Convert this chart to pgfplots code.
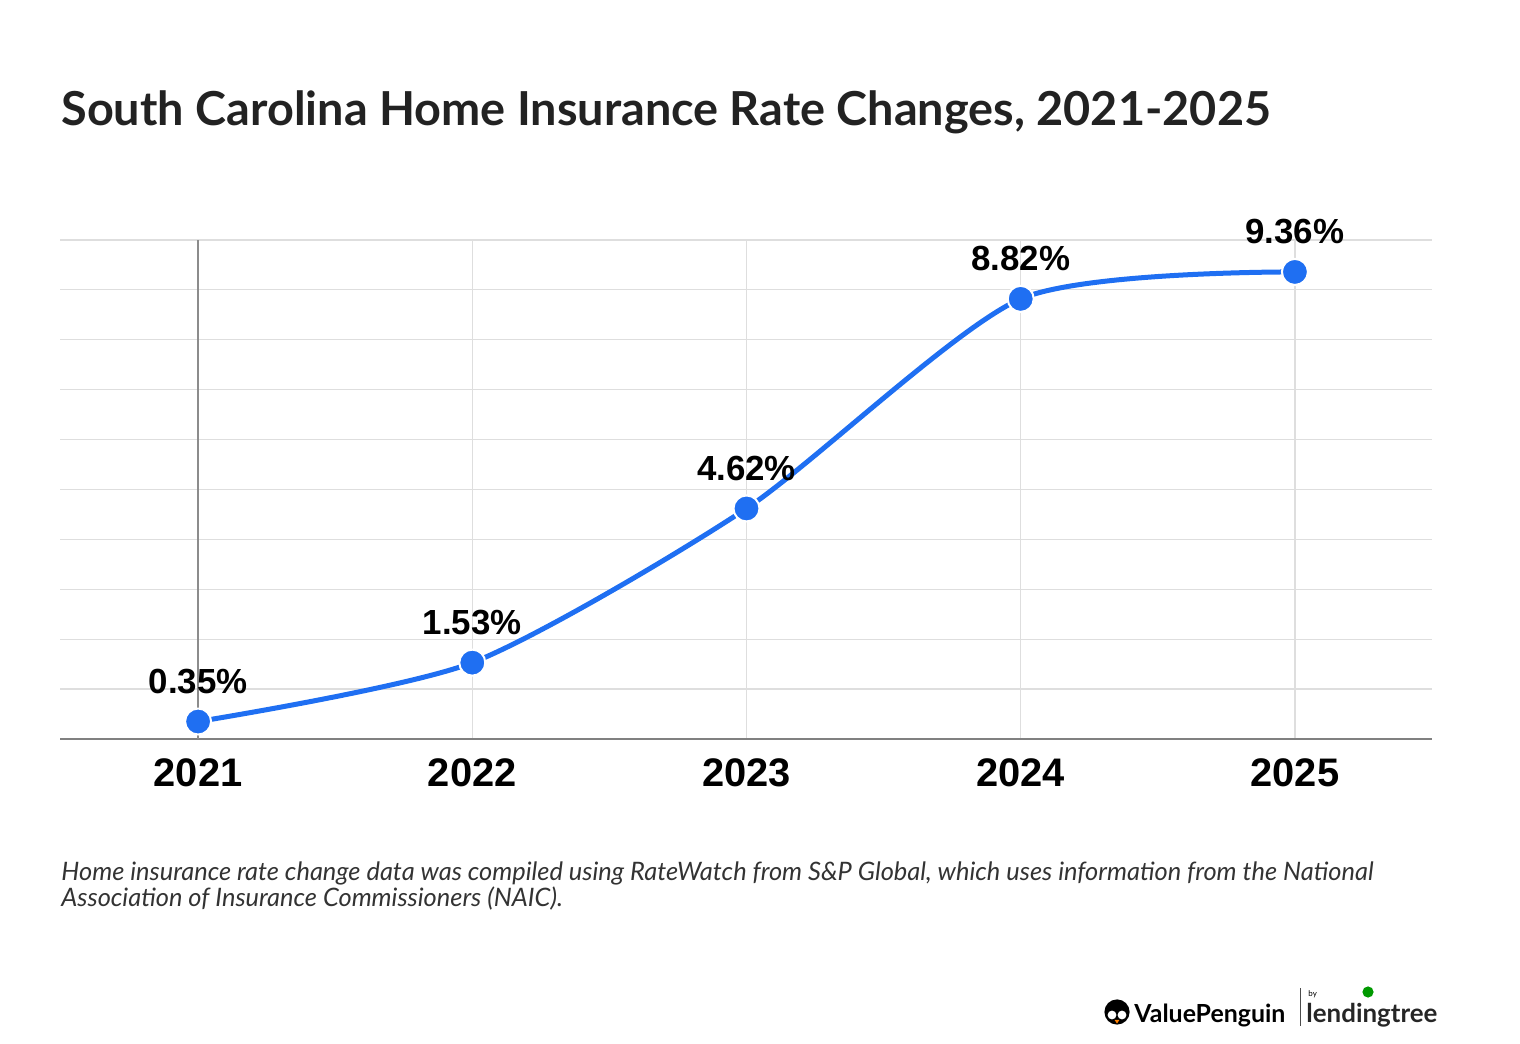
\documentclass[border=0pt]{standalone}
\usepackage{pgfplots}
\pgfplotsset{compat=1.18}
\usepackage{fontspec}
\setmainfont{Lato}
\newfontfamily\labfont{Liberation Sans}
\definecolor{lineblue}{HTML}{1F6FF2}
\definecolor{gridgray}{HTML}{DEDEDE}
\definecolor{titlecol}{HTML}{222222}
\begin{document}
\begin{tikzpicture}
\path[use as bounding box] (0,0) rectangle (760bp,522bp);
\node[anchor=base west, inner sep=0pt, text=titlecol, font=\fontsize{23.5}{28}\selectfont\bfseries] at (30.5bp,459bp) {South Carolina Home Insurance Rate Changes, 2021-2025};
\begin{axis}[
  at={(30bp,152.5bp)}, anchor=south west,
  scale only axis, width=686bp, height=249.5bp,
  xmin=2020.4964, xmax=2025.5, ymin=0, ymax=10,
  axis x line*=bottom, axis y line*=left,
  x axis line style={draw=black!50, line width=0.8bp, -},
  y axis line style={draw=none},
  xtick={2021,2022,2023,2024,2025},
  xticklabels={2021,2022,2023,2024,2025},
  ytick={0,1,...,10}, yticklabels={},
  major tick length=0pt,
  xmajorgrids, ymajorgrids,
  grid style={draw=gridgray, line width=0.6bp},
  extra x ticks={2021}, extra x tick labels={},
  extra x tick style={major grid style={draw=black!45, line width=0.6bp}},
  xticklabel style={font=\labfont\fontsize{20}{24}\selectfont\bfseries, yshift=-6.5bp},
  clip=false,
  nodes near coords={\pgfplotspointmeta\%},
  point meta=explicit symbolic,
  every node near coord/.append style={anchor=center, yshift=20bp, font=\labfont\fontsize{17.5}{20}\selectfont\bfseries, text=black},
]
\addplot[lineblue, line width=2.5bp, smooth, tension=0.42,
  mark=*, mark size=6.5bp, mark options={fill=lineblue, draw=white, line width=1bp}]
  coordinates {
    (2021,0.35) [0.35]
    (2022,1.53) [1.53]
    (2023,4.62) [4.62]
    (2024,8.82) [8.82]
    (2025,9.36) [9.36]
  };
\end{axis}
\node[anchor=base west, inner sep=0pt, align=left, text=black!80, font=\fontsize{12.75}{13.5}\selectfont\itshape] at (30.5bp,68.5bp) {Home insurance rate change data was compiled using RateWatch from S\&P Global, which uses information from the National\\Association of Insurance Commissioners (NAIC).};
% logo
\fill[black] (558.5bp,16bp) circle (6.3bp);
\fill[white] (556bp,14.5bp) circle (2.2bp);
\fill[white] (561bp,14.5bp) circle (2.2bp);
\fill[orange] (557.3bp,12bp) -- (559.7bp,12bp) -- (558.5bp,10.2bp) -- cycle;
\node[anchor=base west, inner sep=0pt, font=\fontsize{12.5}{14}\selectfont\bfseries] at (567bp,11bp) {ValuePenguin};
\draw[black!70, line width=0.5bp] (650bp,9bp) -- (650bp,28bp);
\node[anchor=base west, inner sep=0pt, font=\fontsize{4}{5}\selectfont] at (654bp,24bp) {by};
\node[anchor=base west, inner sep=0pt, font=\fontsize{13}{14}\selectfont\bfseries, text=black!85] at (653bp,11bp) {lendingtree};
\fill[green!60!black] (684bp,26bp) circle (2.8bp);
\end{tikzpicture}
\end{document}
